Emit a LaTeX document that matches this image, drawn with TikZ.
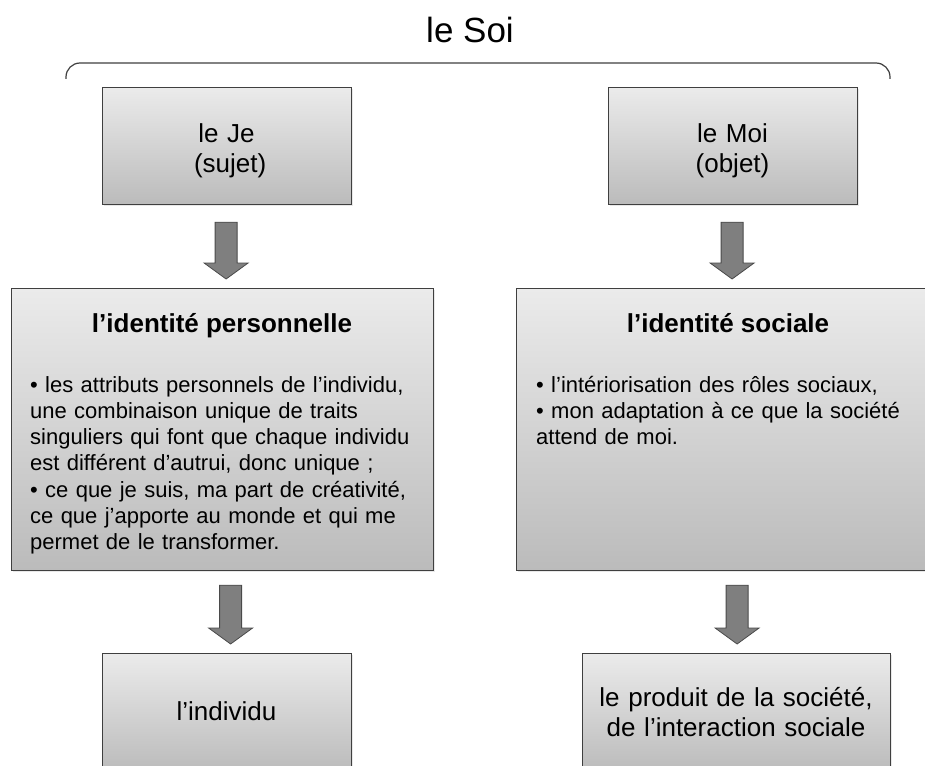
\documentclass[tikz,border=0pt]{standalone}
\usepackage{fontspec}
\setmainfont{Liberation Sans}
\usetikzlibrary{shadows,calc}
\definecolor{boxtop}{HTML}{EBEBEB}
\definecolor{boxbot}{HTML}{BBBBBB}
\definecolor{edge}{HTML}{3F3F3F}
\definecolor{arrowfill}{HTML}{7F7F7F}
\definecolor{arrowedge}{HTML}{4A4A4A}
\tikzset{
  box/.style={draw=edge, line width=1.2pt, top color=boxtop, bottom color=boxbot,
    inner sep=0pt, anchor=north west,
    drop shadow={shadow xshift=1.5pt, shadow yshift=-1.5pt, opacity=0.18}},
  blockarrow/.style={draw=arrowedge, line width=0.8pt, fill=arrowfill, line join=miter},
  boxtext/.style={font=\fontsize{26}{30}\selectfont, align=center, anchor=base, inner sep=0pt},
  titletext/.style={font=\bfseries\fontsize{26}{30}\selectfont, anchor=base, inner sep=0pt},
  bodytext/.style={font=\fontsize{22}{26.3}\selectfont, align=left, anchor=base west, inner sep=0pt},
  bracestyle/.style={draw=edge, line width=1.2pt, rounded corners=14pt},
}
\newcommand\blockarrow[4]{% upper, lower, dx, top gap
  \path (#2.north |- #1.south) coordinate (ba-top) (#2.north) coordinate (ba-bot);
  \draw[blockarrow] ([xshift=#3-11pt,yshift=-#4]ba-top) -- ([xshift=#3+11pt,yshift=-#4]ba-top)
    -- ([xshift=#3+11pt,yshift=25pt]ba-bot) -- ([xshift=#3+22pt,yshift=25pt]ba-bot)
    -- ([xshift=#3,yshift=9pt]ba-bot) -- ([xshift=#3-22pt,yshift=25pt]ba-bot)
    -- ([xshift=#3-11pt,yshift=25pt]ba-bot) -- cycle;
}
\begin{document}
\begin{tikzpicture}[x=1pt, y=-1pt]
\useasboundingbox (0,0) rectangle (925,765);

% title and brace
\node[font=\fontsize{35}{42}\selectfont, anchor=base, inner sep=0pt] (soi) at (470,43) {le Soi};
\coordinate (bl) at (66,79);
\coordinate (br) at (890,79);
\draw[bracestyle] (bl) -- (bl |- 0,63) -- (br |- 0,63) -- (br);

% boxes
\node[box, minimum width=249pt, minimum height=117pt] (je) at (102,87) {};
\node[box, minimum width=249pt, minimum height=117pt] (moi) at (608,87) {};
\node[box, minimum width=422pt, minimum height=282pt] (ip) at (11,288) {};
\node[box, minimum width=422pt, minimum height=282pt] (is) at (516,288) {};
\node[box, minimum width=249pt, minimum height=118pt] (ind) at (102,653) {};
\node[box, minimum width=308pt, minimum height=118pt] (prod) at (582,653) {};

% texts
\node[boxtext, text width=240pt] (jet) at (226.5,142) {le Je\hspace*{.28em}\\\hspace*{.28em}(sujet)};
\node[boxtext, text width=240pt] (moit) at (732.5,142) {le Moi\hspace*{.28em}\\(objet)};
\node[titletext] (ipt) at (222,332) {l’identité personnelle};
\node[titletext] (ist) at (728,332) {l’identité sociale};
\node[bodytext, text width=410pt] (ipb) at (30,392) {• les attributs personnels de l’individu,\\
une combinaison unique de traits\\
singuliers qui font que chaque individu\\
est différent d’autrui, donc unique ;\\
• ce que je suis, ma part de créativité,\\
ce que j’apporte au monde et qui me\\
permet de le transformer.};
\node[bodytext, text width=390pt] (isb) at (536,392) {• l’intériorisation des rôles sociaux,\\
• mon adaptation à ce que la société\\
attend de moi.};
\node[boxtext, text width=240pt] (indt) at (226.5,720) {l’individu};
\node[boxtext, text width=300pt] (prodt) at (736,706) {le produit de la société,\\de l’interaction sociale};

% block arrows
\blockarrow{je}{ip}{3.5pt}{17pt}
\blockarrow{moi}{is}{4.5pt}{17pt}
\blockarrow{ip}{ind}{3.5pt}{14pt}
\blockarrow{is}{prod}{0.5pt}{14pt}
\end{tikzpicture}
\end{document}
